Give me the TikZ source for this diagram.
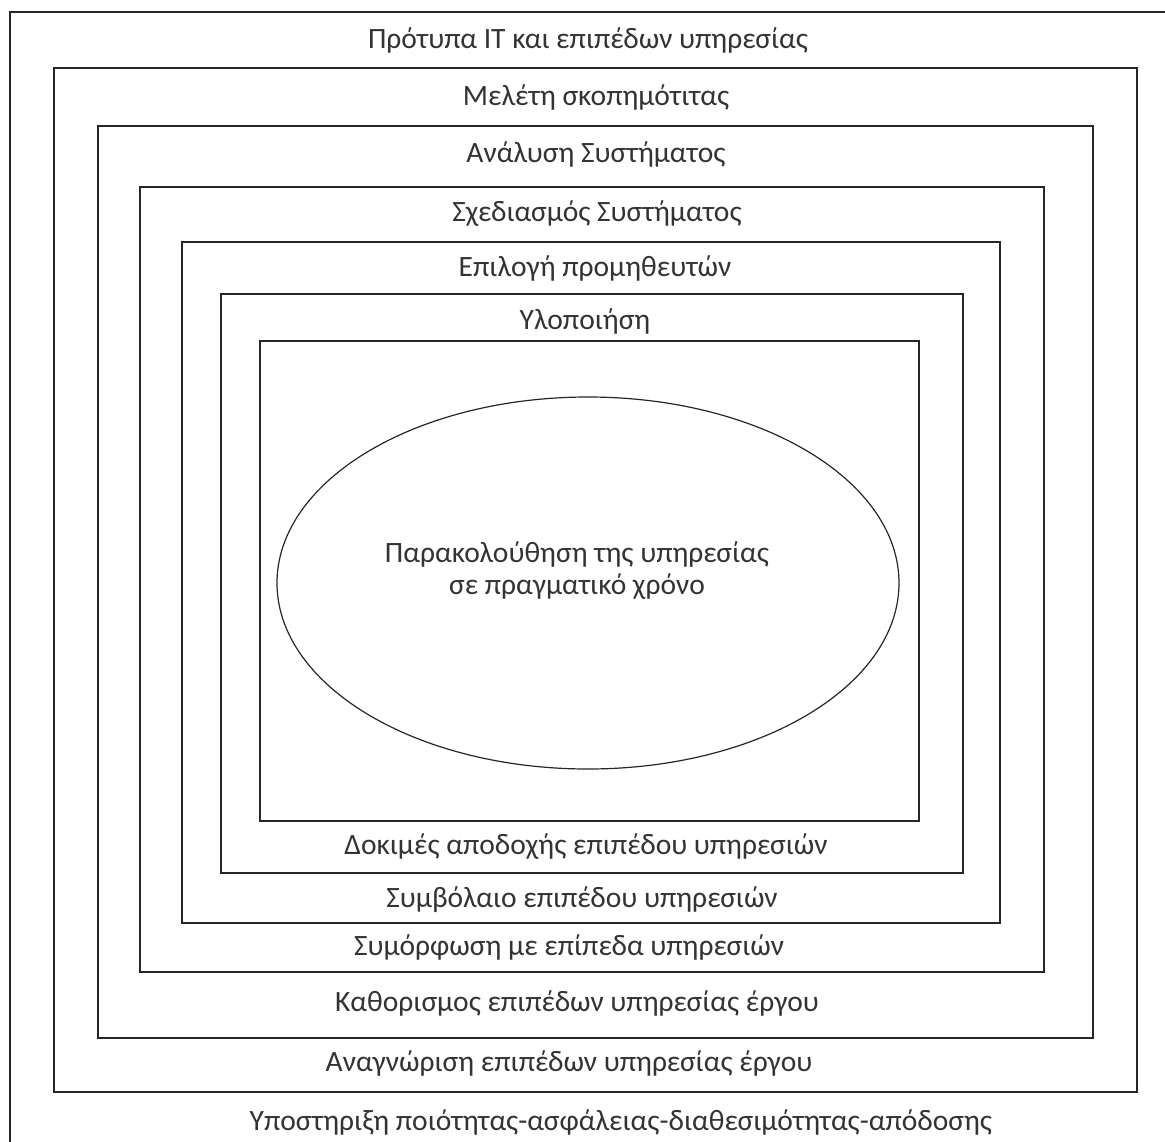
\documentclass[tikz,border=0pt]{standalone}
\usepackage{fontspec}
\setmainfont{Carlito}
\usetikzlibrary{shapes.geometric}

\tikzset{
  layer/.style={draw=black!85, line width=1.8pt},
  lbl/.style={inner sep=0pt, text=black!80, font=\fontsize{29.5}{32}\selectfont},
}

\begin{document}
\begin{tikzpicture}[x=1pt, y=-1pt]
        \useasboundingbox (0,0) rectangle (1165,1141);
        \clip (0,0) rectangle (1165,1141);

        % Layers
        \draw[layer] (10,12) rectangle (1180,1160);
        \draw[layer] (54,68) rectangle (1137,1092);
        \draw[layer] (98,126) rectangle (1093,1038);
        \draw[layer] (140,187) rectangle (1044,972);
        \draw[layer] (182,242) rectangle (1000,923);
        \draw[layer] (221,294) rectangle (963,873);
        \draw[layer] (260,341) rectangle (919,821);

        % Centre
        \node[ellipse, draw=black!85, line width=1.2pt, minimum width=622pt, minimum height=372pt, inner sep=0pt] (Monitor) at (588,583) {};
        \node[lbl, align=center] (MonitorText) at (577,571) {Παρακολούθηση της υπηρεσίας\\σε πραγματικό χρόνο};

        % Labels, top
        \node[lbl] (Standards) at (588,40) {Πρότυπα IT και επιπέδων υπηρεσίας};
        \node[lbl] (Feasibility) at (596,97) {Μελέτη σκοπημότιτας};
        \node[lbl] (Analysis) at (596,154) {Ανάλυση Συστήματος};
        \node[lbl] (Design) at (597,214) {Σχεδιασμός Συστήματος};
        \node[lbl] (Vendors) at (595,268) {Επιλογή προμηθευτών};
        \node[lbl] (Build) at (585,321) {Υλοποιήση};

        % Labels, bottom
        \node[lbl] (Acceptance) at (586,847) {Δοκιμές αποδοχής επιπέδου υπηρεσιών};
        \node[lbl] (Contract) at (582,900) {Συμβόλαιο επιπέδου υπηρεσιών};
        \node[lbl] (Compliance) at (569,947) {Συμόρφωση με επίπεδα υπηρεσιών};
        \node[lbl] (Definition) at (577,1003) {Καθορισμος επιπέδων υπηρεσίας έργου};
        \node[lbl] (Recognition) at (569,1063) {Αναγνώριση επιπέδων υπηρεσίας έργου};
        \node[lbl] (Support) at (621,1122) {Υποστηριξη ποιότητας-ασφάλειας-διαθεσιμότητας-απόδοσης};
    \end{tikzpicture}
\end{document}
